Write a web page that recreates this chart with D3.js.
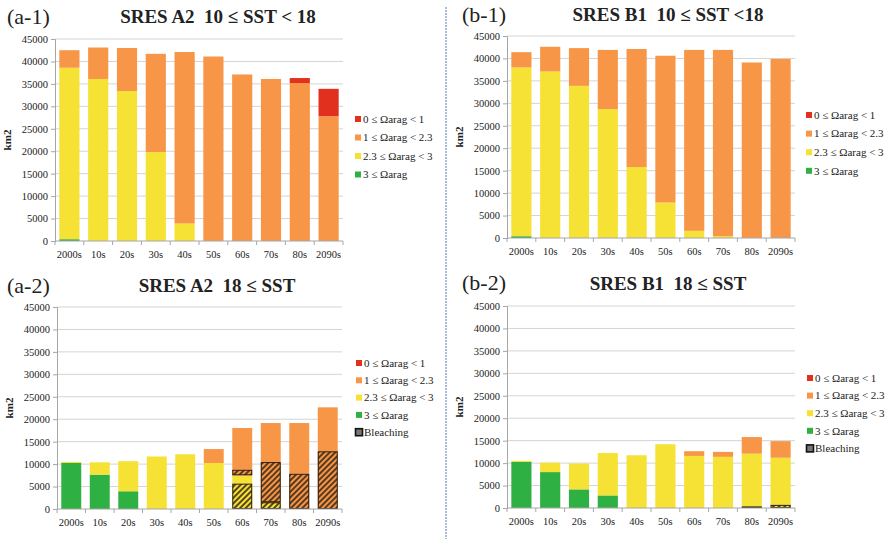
<!DOCTYPE html>
<html><head><meta charset="utf-8">
<script src="https://cdn.jsdelivr.net/npm/d3@7"></script>
<style>
body{margin:0;background:#fff;}
svg{display:block;}
svg text{font-family:"Liberation Serif","Times New Roman","Tinos","DejaVu Serif",serif !important;fill:#222;white-space:pre;}
</style></head>
<body><svg id="c" width="889" height="539"></svg>
<script>
const categories = ["2000s","10s","20s","30s","40s","50s","60s","70s","80s","2090s"];
const yTicks = [0,5000,10000,15000,20000,25000,30000,35000,40000,45000];
const legendLabels = ["0 \u2264 \u03A9arag < 1","1 \u2264 \u03A9arag < 2.3","2.3 \u2264 \u03A9arag < 3","3 \u2264 \u03A9arag"];
const bleachLabel = "Bleaching";

// (a-1) SRES A2, 10 <= SST < 18
const a1Green  = [400,0,0,0,0,0,0,0,0,0];
const a1Yellow = [38200,36100,33400,19800,3900,0,0,0,0,0];
const a1Orange = [3900,7000,9600,21900,38200,41100,37100,36100,35200,27800];
const a1Red    = [0,0,0,0,0,0,0,0,1100,6100];

// (b-1) SRES B1, 10 <= SST < 18
const b1Green  = [400,0,0,0,0,0,0,0,0,0];
const b1Yellow = [37600,37100,33900,28700,15800,7900,1600,400,0,0];
const b1Orange = [3400,5500,8400,13200,26300,32700,40300,41500,39100,39900];
const b1Red    = [0,0,0,0,0,0,0,0,0,0];

// (a-2) SRES A2, 18 <= SST
const a2Green  = [10250,7650,3950,0,0,0,0,0,0,0];
const a2Yellow = [220,2750,6700,11700,12200,10250,7500,1500,0,0];
const a2Orange = [0,0,0,0,0,3100,10550,17650,19150,22650];
const a2Red    = [0,0,0,0,0,0,0,0,0,0];
const a2YellowBleach = [0,0,0,0,0,0,5650,1500,0,0];
const a2OrangeBleach = [0,0,0,0,0,0,1250,8950,7850,12850];

// (b-2) SRES B1, 18 <= SST
const b2Green  = [10250,8000,4150,2800,0,0,0,0,0,0];
const b2Yellow = [250,2100,5750,9450,11750,14200,11600,11400,12100,11200];
const b2Orange = [0,0,0,0,0,0,1050,1100,3700,3700];
const b2Red    = [0,0,0,0,0,0,0,0,0,0];
const b2YellowBleach = [0,0,0,0,0,0,0,0,350,700];
const b2OrangeBleach = [0,0,0,0,0,0,0,0,0,0];

const colors = {red:"#e2301f", orange:"#f79646", yellow:"#f5e234", green:"#2fb043"};
const FONT = "Liberation Serif, Times New Roman, Tinos, DejaVu Serif, serif";

const svg = d3.select("#c");
const defs = svg.append("defs");
const pat = defs.append("pattern").attr("id","hatch").attr("patternUnits","userSpaceOnUse")
  .attr("width",4).attr("height",4).attr("patternTransform","rotate(45)");
pat.append("line").attr("x1",1).attr("y1",0).attr("x2",1).attr("y2",4)
  .attr("stroke","#3b2a18").attr("stroke-width",1.7);

// divider
svg.append("line").attr("x1",446).attr("x2",446).attr("y1",7).attr("y2",539)
  .attr("stroke","#8ea8d8").attr("stroke-width",1.5).attr("stroke-dasharray","2,1");

const panels = [
  {tag:"(a-1)", title:"SRES A2  10 \u2264 SST < 18", tagX:7, tagY:24, titleX:218, titleY:23,
   x0:55, x1:343, y0:39, y1:241, legX:358, legY:119, legStep:18.5, bleach:false,
   green:a1Green, yellow:a1Yellow, orange:a1Orange, red:a1Red},
  {tag:"(b-1)", title:"SRES B1  10 \u2264 SST <18", tagX:462, tagY:22, titleX:668, titleY:21,
   x0:507, x1:795, y0:36, y1:238, legX:809, legY:115, legStep:18.6, bleach:false,
   green:b1Green, yellow:b1Yellow, orange:b1Orange, red:b1Red},
  {tag:"(a-2)", title:"SRES A2  18 \u2264 SST", tagX:7, tagY:293, titleX:217, titleY:292,
   x0:57, x1:342, y0:307, y1:509, legX:359, legY:363, legStep:17.3, bleach:true,
   green:a2Green, yellow:a2Yellow, orange:a2Orange, red:a2Red, yb:a2YellowBleach, ob:a2OrangeBleach},
  {tag:"(b-2)", title:"SRES B1  18 \u2264 SST", tagX:462, tagY:290, titleX:668, titleY:290,
   x0:507, x1:795, y0:306, y1:508, legX:810, legY:378, legStep:17.6, bleach:true,
   green:b2Green, yellow:b2Yellow, orange:b2Orange, red:b2Red, yb:b2YellowBleach, ob:b2OrangeBleach}
];

function drawPanel(p){
  const g = svg.append("g");
  const x = d3.scaleBand().domain(categories).range([p.x0,p.x1]).paddingInner(0.3).paddingOuter(0.15);
  const y = d3.scaleLinear().domain([0,45000]).range([p.y1,p.y0]);

  g.append("text").attr("x",p.tagX).attr("y",p.tagY).attr("font-size",22).attr("font-family",FONT).text(p.tag);
  g.append("text").attr("x",p.titleX).attr("y",p.titleY).attr("text-anchor","middle").attr("font-family",FONT)
    .attr("font-size",19).attr("font-weight","bold").attr("xml:space","preserve").text(p.title);

  // gridlines
  g.selectAll(".grid").data(yTicks.slice(1)).join("line")
    .attr("x1",p.x0).attr("x2",p.x1).attr("y1",d=>y(d)).attr("y2",d=>y(d))
    .attr("stroke","#d4d4d4").attr("stroke-width",1);

  // y axis
  const ya = g.append("g").attr("transform",`translate(${p.x0},0)`)
    .call(d3.axisLeft(y).tickValues(yTicks).tickSize(4).tickPadding(3).tickFormat(d3.format("d")));
  ya.attr("font-family",FONT);
  ya.select(".domain").attr("stroke","#a6a6a6");
  ya.selectAll(".tick line").attr("stroke","#a6a6a6");
  ya.selectAll(".tick text").attr("font-size",10.5).attr("fill","#222");

  g.append("text").attr("transform",`translate(${p.x0-44},${(p.y0+p.y1)/2}) rotate(-90)`).attr("font-family",FONT)
    .attr("text-anchor","middle").attr("font-size",11).attr("font-weight","bold").text("km2");

  // bars
  categories.forEach((c,i)=>{
    const yb = p.yb ? p.yb[i] : 0, ob = p.ob ? p.ob[i] : 0;
    const segs = [
      {v:p.green[i], col:colors.green, h:false},
      {v:yb, col:colors.yellow, h:true},
      {v:p.yellow[i]-yb, col:colors.yellow, h:false},
      {v:ob, col:colors.orange, h:true},
      {v:p.orange[i]-ob, col:colors.orange, h:false},
      {v:p.red[i], col:colors.red, h:false}
    ];
    let acc = 0;
    segs.forEach(s=>{
      if(s.v<=0) return;
      const top = y(acc+s.v), bot = y(acc);
      g.append("rect").attr("x",x(c)).attr("width",x.bandwidth()).attr("y",top).attr("height",bot-top).attr("fill",s.col);
      acc += s.v;
    });
    acc = 0;
    segs.forEach(s=>{
      if(s.v<=0) return;
      if(s.h){
        const top = y(acc+s.v), bot = y(acc);
        g.append("rect").attr("x",x(c)+0.5).attr("width",x.bandwidth()-1).attr("y",top+0.5).attr("height",Math.max(0,bot-top-1))
          .attr("fill","url(#hatch)").attr("stroke","#2b1d10").attr("stroke-width",1);
      }
      acc += s.v;
    });
  });

  // x axis
  g.append("line").attr("x1",p.x0).attr("x2",p.x1).attr("y1",p.y1).attr("y2",p.y1).attr("stroke","#a6a6a6");
  const bounds = d3.range(categories.length+1).map(i=>p.x0+i*x.step());
  g.selectAll(".xt").data(bounds).join("line").attr("x1",d=>d).attr("x2",d=>d)
    .attr("y1",p.y1).attr("y2",p.y1+4).attr("stroke","#a6a6a6");
  g.selectAll(".xl").data(categories).join("text").attr("x",d=>x(d)+x.bandwidth()/2).attr("y",p.y1+17)
    .attr("font-family",FONT).attr("text-anchor","middle").attr("font-size",10.5).text(d=>d);

  // legend
  const items = [
    {t:legendLabels[0], col:colors.red},
    {t:legendLabels[1], col:colors.orange},
    {t:legendLabels[2], col:colors.yellow},
    {t:legendLabels[3], col:colors.green}
  ];
  if(p.bleach) items.push({t:bleachLabel, col:null});
  items.forEach((it,k)=>{
    const cy = p.legY + k*p.legStep;
    if(it.col){
      g.append("rect").attr("x",p.legX-3).attr("y",cy-3).attr("width",6).attr("height",6).attr("fill",it.col);
    } else {
      g.append("rect").attr("x",p.legX-3.5).attr("y",cy-3.5).attr("width",7).attr("height",7)
        .attr("fill","#777").attr("stroke","#111").attr("stroke-width",1.6);
    }
    g.append("text").attr("x",p.legX+5).attr("y",cy+3.8).attr("font-family",FONT).attr("font-size",11).text(it.t);
  });
}
panels.forEach(drawPanel);
</script></body></html>
